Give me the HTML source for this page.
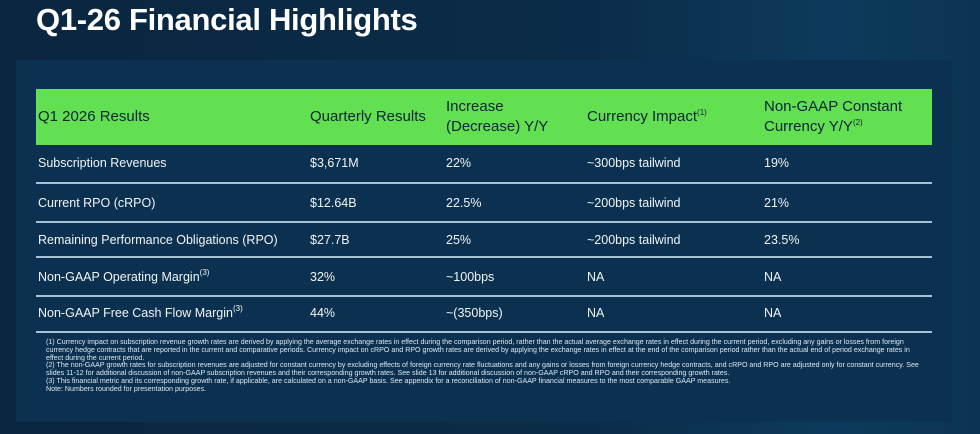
<!DOCTYPE html>
<html><head><meta charset="utf-8"><style>
*{margin:0;padding:0;box-sizing:border-box}
body{width:980px;height:434px;overflow:hidden;font-family:"Liberation Sans",sans-serif;color:#fff;
background:linear-gradient(90deg,#0a2640 0%,#0b2c48 60%,#0d3a5c 85%,#0b3452 100%);position:relative}
.title{position:absolute;left:36px;top:2px;font-size:31px;font-weight:bold;letter-spacing:-0.3px}
.panel{position:absolute;left:16px;top:60px;width:936px;height:362px;background:#0c3150}
.hdr{position:absolute;left:36px;top:89px;width:896px;height:56px;background:#62e052;color:#0c2338;font-size:15px}
.hdr div{position:absolute;line-height:20px;white-space:nowrap}
.row{position:absolute;left:36px;width:896px;font-size:12.5px;color:#f0f4f8}
.row div{position:absolute;top:0;white-space:nowrap}
.sep{position:absolute;left:36px;width:896px;height:2px;background:#a9c3d6}
sup{font-size:8px;position:relative;top:-6px;vertical-align:baseline;line-height:0}
.notes{position:absolute;left:46px;top:339px;width:880px;font-size:7.1px;line-height:7.8px;color:#dfe8f0}
</style></head><body>
<div class="title">Q1-26 Financial Highlights</div>
<div class="panel"></div>
<div class="hdr">
<div style="left:2px;top:18px">Q1 2026 Results</div>
<div style="left:274px;top:18px">Quarterly Results</div>
<div style="left:410px;top:8px">Increase<br>(Decrease) Y/Y</div>
<div style="left:551px;top:18px">Currency Impact<sup>(1)</sup></div>
<div style="left:728px;top:8px">Non-GAAP Constant<br>Currency Y/Y<sup>(2)</sup></div>
</div>
<div class="row" style="top:156px"><div style="left:2px">Subscription Revenues</div><div style="left:274px">$3,671M</div><div style="left:410px">22%</div><div style="left:551px">~300bps tailwind</div><div style="left:728px">19%</div></div>
<div class="sep" style="top:182px"></div>
<div class="row" style="top:196px"><div style="left:2px">Current RPO (cRPO)</div><div style="left:274px">$12.64B</div><div style="left:410px">22.5%</div><div style="left:551px">~200bps tailwind</div><div style="left:728px">21%</div></div>
<div class="sep" style="top:221px"></div>
<div class="row" style="top:233px"><div style="left:2px">Remaining Performance Obligations (RPO)</div><div style="left:274px">$27.7B</div><div style="left:410px">25%</div><div style="left:551px">~200bps tailwind</div><div style="left:728px">23.5%</div></div>
<div class="sep" style="top:256px"></div>
<div class="row" style="top:270px"><div style="left:2px">Non-GAAP Operating Margin<sup>(3)</sup></div><div style="left:274px">32%</div><div style="left:410px">~100bps</div><div style="left:551px">NA</div><div style="left:728px">NA</div></div>
<div class="sep" style="top:295px"></div>
<div class="row" style="top:306px"><div style="left:2px">Non-GAAP Free Cash Flow Margin<sup>(3)</sup></div><div style="left:274px">44%</div><div style="left:410px">~(350bps)</div><div style="left:551px">NA</div><div style="left:728px">NA</div></div>
<div class="sep" style="top:331px"></div>
<div class="notes">(1) Currency impact on subscription revenue growth rates are derived by applying the average exchange rates in effect during the comparison period, rather than the actual average exchange rates in effect during the current period, excluding any gains or losses from foreign currency hedge contracts that are reported in the current and comparative periods. Currency impact on cRPO and RPO growth rates are derived by applying the exchange rates in effect at the end of the comparison period rather than the actual end of period exchange rates in effect during the current period.<br>(2) The non-GAAP growth rates for subscription revenues are adjusted for constant currency by excluding effects of foreign currency rate fluctuations and any gains or losses from foreign currency hedge contracts, and cRPO and RPO are adjusted only for constant currency. See slides 11-12 for additional discussion of non-GAAP subscription revenues and their corresponding growth rates. See slide 13 for additional discussion of non-GAAP cRPO and RPO and their corresponding growth rates.<br>(3) This financial metric and its corresponding growth rate, if applicable, are calculated on a non-GAAP basis. See appendix for a reconciliation of non-GAAP financial measures to the most comparable GAAP measures.<br>Note: Numbers rounded for presentation purposes.</div>
</body></html>
